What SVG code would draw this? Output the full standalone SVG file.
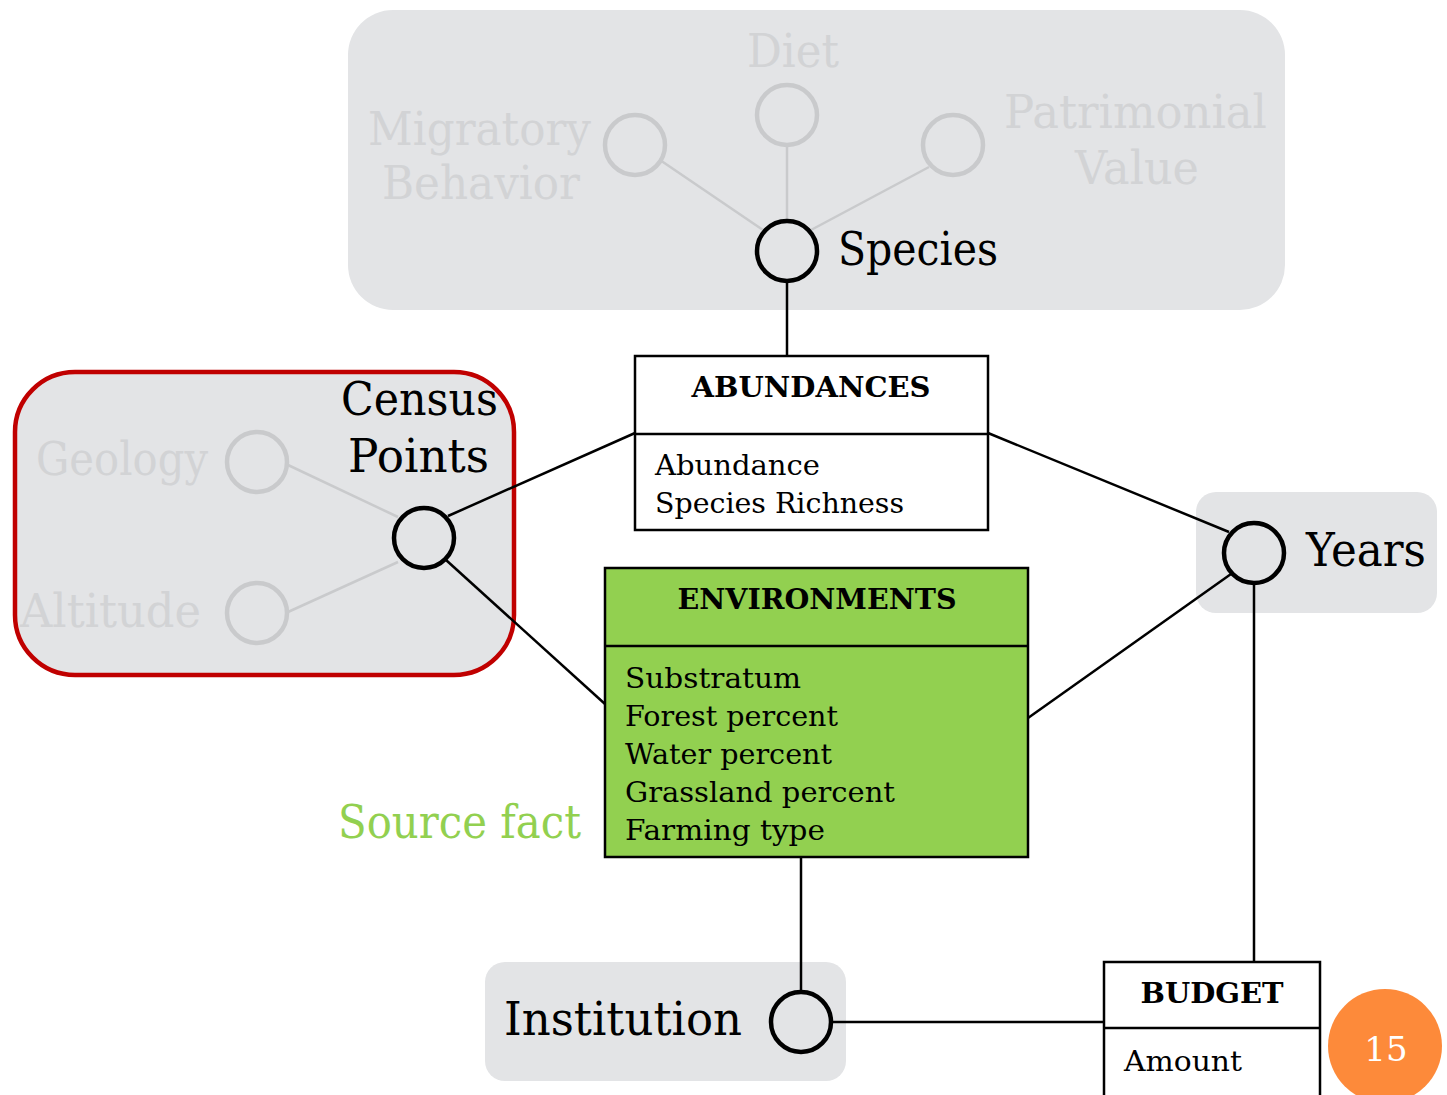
<svg xmlns="http://www.w3.org/2000/svg" width="1447" height="1095" viewBox="0 0 1447 1095">
<style>
text{font-family:"DejaVu Serif","Liberation Serif",serif;}
.grp{fill:#e3e4e6;}
.big{font-size:46px;fill:#000;}
.faint{font-size:46px;fill:#d2d3d5;}
.ttl{font-size:28px;font-weight:bold;fill:#000;text-anchor:middle;}
.attr{font-size:28px;fill:#000;}
.key{fill:none;stroke:#000;stroke-width:4.5;}
.soft{fill:none;stroke:#c9cacc;stroke-width:4.5;}
.sline{stroke:#c9cacc;stroke-width:2.5;fill:none;}
.conn line{stroke:#000;stroke-width:2.5;}
.box{stroke:#000;stroke-width:2.5;}
</style>

<g id="species-group">
<rect class="grp" x="348" y="10" width="937" height="300" rx="45"/>
<line class="sline" x1="660" y1="160" x2="763" y2="230"/>
<line class="sline" x1="787" y1="145" x2="787" y2="221"/>
<line class="sline" x1="929" y1="167" x2="811" y2="230"/>
<circle class="soft" cx="635" cy="145" r="30"/>
<circle class="soft" cx="787" cy="115" r="30"/>
<circle class="soft" cx="953" cy="145" r="30"/>
<text class="faint" x="368" y="145" textLength="223" lengthAdjust="spacingAndGlyphs">Migratory</text>
<text class="faint" x="382" y="199" textLength="198" lengthAdjust="spacingAndGlyphs">Behavior</text>
<text class="faint" x="747" y="67" textLength="92" lengthAdjust="spacingAndGlyphs">Diet</text>
<text class="faint" x="1004" y="128" textLength="263" lengthAdjust="spacingAndGlyphs">Patrimonial</text>
<text class="faint" x="1075" y="184" textLength="124" lengthAdjust="spacingAndGlyphs">Value</text>
</g>

<g id="census-group">
<rect class="grp" x="15" y="372" width="499" height="303" rx="60" stroke="#c00000" stroke-width="4.5"/>
<line class="sline" x1="288" y1="465" x2="398" y2="517"/>
<line class="sline" x1="288" y1="612" x2="398" y2="562"/>
<circle class="soft" cx="257" cy="462" r="30"/>
<circle class="soft" cx="257" cy="613" r="30"/>
<text class="faint" x="36" y="475" textLength="172" lengthAdjust="spacingAndGlyphs">Geology</text>
<text class="faint" x="20" y="627" textLength="181" lengthAdjust="spacingAndGlyphs">Altitude</text>
</g>

<g id="years-group"><rect class="grp" x="1196" y="492" width="241" height="121" rx="20"/></g>
<g id="institution-group"><rect class="grp" x="485" y="962" width="361" height="119" rx="20"/></g>

<g class="conn" id="connectors">
<line x1="787" y1="281" x2="787" y2="356"/>
<line x1="448" y1="516" x2="635" y2="433"/>
<line x1="446" y1="560" x2="605" y2="704"/>
<line x1="988" y1="433" x2="1229" y2="532"/>
<line x1="1028" y1="718" x2="1231" y2="574"/>
<line x1="1254" y1="583" x2="1254" y2="962"/>
<line x1="801" y1="857" x2="801" y2="992"/>
<line x1="831" y1="1022" x2="1104" y2="1022"/>
</g>

<g id="species">
<circle class="key" cx="787" cy="251" r="30" fill="#e3e4e6"/>
<text class="big" x="838" y="265" textLength="160" lengthAdjust="spacingAndGlyphs">Species</text>
</g>

<g id="census-points">
<circle class="key" cx="424" cy="538" r="30" fill="#e3e4e6"/>
<text class="big" x="341" y="415" textLength="157" lengthAdjust="spacingAndGlyphs">Census</text>
<text class="big" x="348" y="472" textLength="141" lengthAdjust="spacingAndGlyphs">Points</text>
</g>

<g id="years">
<circle class="key" cx="1254" cy="553" r="30" fill="#e3e4e6"/>
<text class="big" x="1306" y="566" textLength="120" lengthAdjust="spacingAndGlyphs">Years</text>
</g>

<g id="institution">
<circle class="key" cx="801" cy="1022" r="30" fill="#e3e4e6"/>
<text class="big" x="504" y="1035" textLength="238" lengthAdjust="spacingAndGlyphs">Institution</text>
</g>

<g id="abundances">
<rect class="box" x="635" y="356" width="353" height="174" fill="#fff"/>
<line class="box" x1="635" y1="434" x2="988" y2="434"/>
<text class="ttl" x="811" y="397" textLength="239" lengthAdjust="spacingAndGlyphs">ABUNDANCES</text>
<text class="attr" x="655" y="475" textLength="165" lengthAdjust="spacingAndGlyphs">Abundance</text>
<text class="attr" x="655" y="513" textLength="249" lengthAdjust="spacingAndGlyphs">Species Richness</text>
</g>

<g id="environments">
<rect class="box" x="605" y="568" width="423" height="289" fill="#92d050"/>
<line class="box" x1="605" y1="646" x2="1028" y2="646"/>
<text class="ttl" x="817" y="609" textLength="279" lengthAdjust="spacingAndGlyphs">ENVIRONMENTS</text>
<text class="attr" x="625" y="688" textLength="176" lengthAdjust="spacingAndGlyphs">Substratum</text>
<text class="attr" x="625" y="726" textLength="213" lengthAdjust="spacingAndGlyphs">Forest percent</text>
<text class="attr" x="625" y="764" textLength="207" lengthAdjust="spacingAndGlyphs">Water percent</text>
<text class="attr" x="625" y="802" textLength="270" lengthAdjust="spacingAndGlyphs">Grassland percent</text>
<text class="attr" x="625" y="840" textLength="200" lengthAdjust="spacingAndGlyphs">Farming type</text>
</g>

<g id="source-fact">
<text x="338" y="838" font-size="46" fill="#92d050" textLength="243" lengthAdjust="spacingAndGlyphs">Source fact</text>
</g>

<g id="budget">
<rect class="box" x="1104" y="962" width="216" height="140" fill="#fff"/>
<line class="box" x1="1104" y1="1028" x2="1320" y2="1028"/>
<text class="ttl" x="1212" y="1003" textLength="143" lengthAdjust="spacingAndGlyphs">BUDGET</text>
<text class="attr" x="1124" y="1071" textLength="118" lengthAdjust="spacingAndGlyphs">Amount</text>
</g>

<g id="page-number">
<circle cx="1385" cy="1046" r="57" fill="#fd8a3a"/>
<text x="1386" y="1061" font-size="34" fill="#fff" text-anchor="middle">15</text>
</g>
</svg>
